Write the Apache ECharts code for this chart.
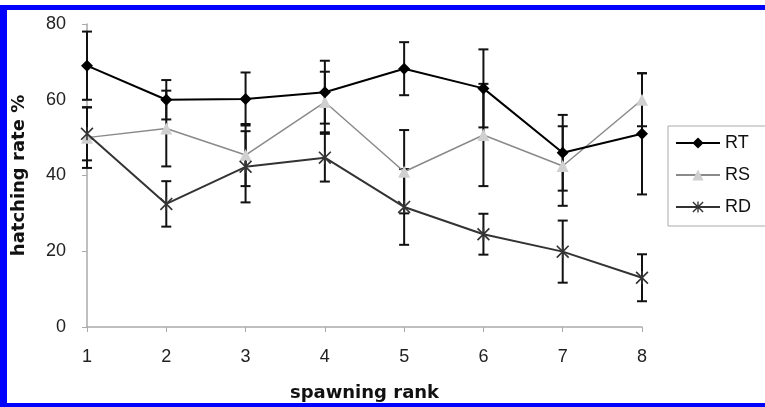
<!DOCTYPE html>
<html>
<head>
<meta charset="utf-8">
<title>hatching rate</title>
<script src="https://cdn.jsdelivr.net/npm/echarts@6/dist/echarts.min.js"></script>
<style>
  body { margin: 0; background: #fff; }
  #main { width: 765px; height: 407px; }
</style>
</head>
<body>
<div id="main"></div>
<script>
var ranks = ['1', '2', '3', '4', '5', '6', '7', '8'];
var yTicks = [0, 20, 40, 60, 80];

var rtMean = [69, 60, 60.2, 62, 68.2, 63, 46, 51];
var rtErr = [9, 5.2, 7, 8.3, 7, 10.3, 10, 16];
var rsMean = [50, 52.4, 45.4, 59.4, 41, 50.7, 42.5, 60];
var rsErr = [8, 10, 8.2, 8, 11, 13.5, 10.5, 7];
var rdMean = [51, 32.5, 42.3, 44.7, 31.7, 24.5, 19.9, 13];
var rdErr = [7, 6, 9.4, 6.3, 10, 5.4, 8.2, 6.2];

var font = 'Liberation Sans, Arial, sans-serif';
var titleFont = 'DejaVu Sans, sans-serif';
var star = 'path://M4.4 0H5.6V10H4.4Z M0 0.9L0.9 0L10 9.1L9.1 10Z M9.1 0L10 0.9L0.9 10L0 9.1Z';

function errData(mean, err) {
  return mean.map(function (m, i) { return [i, m - err[i], m + err[i]]; });
}

function errSeries(name, mean, err) {
  return {
    name: name + ' err',
    type: 'custom',
    z: 1,
    silent: true,
    data: errData(mean, err),
    renderItem: function (params, api) {
      var lo = api.coord([api.value(0), api.value(1)]);
      var hi = api.coord([api.value(0), api.value(2)]);
      var w = 5;
      var st = { stroke: '#111', lineWidth: 2 };
      return {
        type: 'group',
        children: [
          { type: 'line', shape: { x1: lo[0], y1: lo[1], x2: hi[0], y2: hi[1] }, style: st },
          { type: 'line', shape: { x1: hi[0] - w, y1: hi[1], x2: hi[0] + w, y2: hi[1] }, style: st },
          { type: 'line', shape: { x1: lo[0] - w, y1: lo[1], x2: lo[0] + w, y2: lo[1] }, style: st }
        ]
      };
    }
  };
}

var chart = echarts.init(document.getElementById('main'));
chart.setOption({
  animation: false,
  backgroundColor: '#fff',
  textStyle: { fontFamily: font },
  grid: { left: 87, right: 123, top: 24, bottom: 80 },
  legend: {
    orient: 'vertical',
    left: 668,
    top: 126,
    data: ['RT', 'RS', 'RD'],
    itemWidth: 44,
    itemHeight: 14,
    itemGap: 14,
    padding: [8, 30, 10, 7],
    borderColor: '#aaa',
    borderWidth: 1,
    textStyle: { fontSize: 18, color: '#111', fontFamily: font }
  },
  xAxis: {
    type: 'category',
    data: ranks,
    boundaryGap: false,
    name: 'spawning rank',
    nameLocation: 'middle',
    nameGap: 57,
    nameTextStyle: { fontSize: 18, fontWeight: 'bold', color: '#111', fontFamily: titleFont },
    axisLine: { lineStyle: { color: '#aaa', width: 1.5 } },
    axisTick: { length: 5, lineStyle: { color: '#aaa' } },
    axisLabel: { fontSize: 18, color: '#222', margin: 21 }
  },
  yAxis: {
    type: 'value',
    min: yTicks[0],
    max: yTicks[yTicks.length - 1],
    interval: 20,
    name: 'hatching rate %',
    nameLocation: 'middle',
    nameGap: 59,
    nameTextStyle: { fontSize: 18, fontWeight: 'bold', color: '#111', fontFamily: titleFont },
    splitLine: { show: false },
    axisLine: { show: true, lineStyle: { color: '#aaa', width: 1.5 } },
    axisTick: { show: true, length: 5, lineStyle: { color: '#aaa' } },
    axisLabel: { fontSize: 18, color: '#222', margin: 21 }
  },
  graphic: [
    { type: 'rect', shape: { x: 0, y: 5, width: 765, height: 5 }, style: { fill: '#0000ff' } },
    { type: 'rect', shape: { x: 0, y: 5, width: 7, height: 402 }, style: { fill: '#0000ff' } },
    { type: 'rect', shape: { x: 0, y: 403, width: 765, height: 4 }, style: { fill: '#0000ff' } }
  ],
  series: [
    errSeries('RT', rtMean, rtErr),
    errSeries('RS', rsMean, rsErr),
    errSeries('RD', rdMean, rdErr),
    {
      name: 'RT', type: 'line', data: rtMean, z: 4,
      symbol: 'diamond', symbolSize: 12,
      lineStyle: { color: '#000', width: 2 },
      itemStyle: { color: '#000' }
    },
    {
      name: 'RS', type: 'line', data: rsMean, z: 3,
      symbol: 'triangle', symbolSize: 12,
      lineStyle: { color: '#8a8a8a', width: 1.5 },
      itemStyle: { color: '#d0d0d0' }
    },
    {
      name: 'RD', type: 'line', data: rdMean, z: 3,
      symbol: star, symbolSize: 13,
      lineStyle: { color: '#333', width: 2 },
      itemStyle: { color: '#333' }
    }
  ]
});
</script>
</body>
</html>
